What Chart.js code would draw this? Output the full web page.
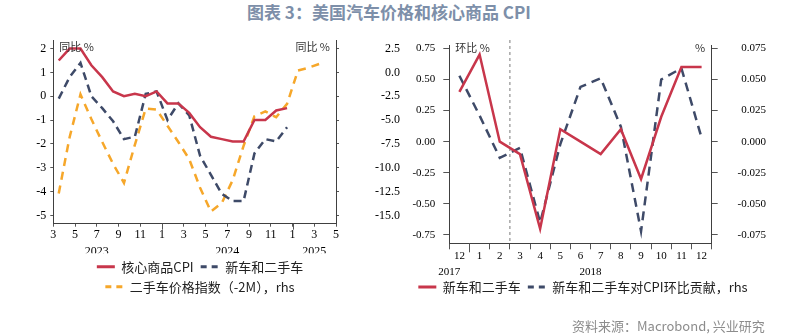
<!DOCTYPE html>
<html>
<head>
<meta charset="utf-8">
<script src="https://cdn.jsdelivr.net/npm/chart.js@4.4.1/dist/chart.umd.min.js"></script>
<style>
  html, body { margin: 0; padding: 0; background: #ffffff; }
  body { width: 804px; height: 336px; position: relative; overflow: hidden; font-family: "Noto Sans CJK SC", sans-serif; }
  #title { position: absolute; top: 0; left: 247px; font-size: 17px; font-weight: bold; color: #7d8fa9; line-height: 24px; white-space: nowrap; }
  #source { position: absolute; top: 317px; left: 572px; font-size: 13px; color: #8c8c8c; line-height: 18px; white-space: nowrap; }
  #c1 { position: absolute; left: 0; top: 0; }
  #c2 { position: absolute; left: 400px; top: 0; }
</style>
</head>
<body>
<div id="title">图表 3：美国汽车价格和核心商品 CPI</div>
<canvas id="c1" width="400" height="336"></canvas>
<canvas id="c2" width="404" height="336"></canvas>
<div id="source">资料来源：Macrobond, 兴业研究</div>
<script>
// ---------------- Left chart data (monthly, Mar 2023 onward) ----------------
const leftTickLabels = ['3','5','7','9','11','1','3','5','7','9','11','1','3','5'];
const leftYearLabels = ['2023','2024','2025'];
const leftYearTickIndex = [2, 8, 12];
const leftYearBoundaryTicks = [5, 11];
const leftYTicks = [-5,-4,-3,-2,-1,0,1,2];
const leftY1Ticks = [-15,-12.5,-10,-7.5,-5,-2.5,0,2.5];
const coreGoodsCPI = [1.5,2.0,2.0,1.3,0.8,0.2,0.0,0.1,0.0,0.2,-0.3,-0.3,-0.7,-1.3,-1.7,-1.8,-1.9,-1.9,-1.0,-1.0,-0.6,-0.5];
const newUsedCars  = [-0.1,0.8,1.4,0.0,-0.5,-1.05,-1.8,-1.7,0.1,0.2,-1.0,-0.3,-0.8,-2.5,-3.3,-4.1,-4.4,-4.4,-2.4,-1.8,-1.9,-1.3];
const usedCarIndexLead2M = [-12.7,-6.8,-2.3,-4.9,-7.3,-9.6,-11.6,-7.6,-3.8,-3.9,-5.6,-7.3,-9.1,-12.1,-14.6,-13.7,-11.3,-7.7,-4.6,-4.1,-4.7,-3.3,0.2,0.5,0.9];

// ---------------- Right chart data (Dec 2017 - Dec 2018) ----------------
const rightCategories = ['12','1','2','3','4','5','6','7','8','9','10','11','12'];
const rightYearLabels = ['2017','2018'];
const rightYearAnchor = [-0.5, 6.5];
const rightYTicks = [-0.75,-0.5,-0.25,0,0.25,0.5,0.75];
const rightY1Ticks = [-0.075,-0.05,-0.025,0,0.025,0.05,0.075];
const carsMoM = [0.4,0.7,0.0,-0.1,-0.7,0.1,0.0,-0.1,0.1,-0.3,0.2,0.6,0.6];
const carsContribMoM = [0.053,0.021,-0.013,-0.005,-0.065,-0.002,0.044,0.051,0.012,-0.072,0.050,0.059,0.003];

const RED = '#C8364B', NAVY = '#3E4A68', ORANGE = '#F6A72A';
const AXIS = '#404040', TICKC = '#555555';
const SERIF = '"Liberation Serif", "Times New Roman", serif';
const CJK = '"Noto Sans CJK SC", sans-serif';

const fixWidth = w => s => { s.width = w; };
const fixHeight = h => s => { s.height = h; };
const setTicks = vals => s => { s.ticks = vals.map(v => ({ value: v })); };

function legendLabels() {
  return {
    usePointStyle: true, pointStyleWidth: 18, padding: 7, color: '#222',
    font: { family: CJK, size: 13 },
    generateLabels(chart) {
      return chart.data.datasets.map((d, i) => ({
        text: d.label, strokeStyle: d.borderColor, fillStyle: 'rgba(0,0,0,0)',
        lineWidth: 3, lineDash: d.borderDash ? [6, 5] : [], pointStyle: 'line',
        datasetIndex: i, hidden: false, fontColor: '#222'
      }));
    }
  };
}

const leftAnnot = {
  id: 'leftAnnot',
  afterDraw(chart) {
    const { ctx, chartArea: ca, scales } = chart;
    ctx.save();
    ctx.fillStyle = '#333';
    ctx.font = '11px ' + CJK;
    ctx.textBaseline = 'middle';
    ctx.textAlign = 'left';
    ctx.fillText('同比 %', ca.left + 6, ca.top + 7);
    ctx.textAlign = 'right';
    ctx.fillText('同比 %', ca.right - 6, ca.top + 7);
    ctx.strokeStyle = TICKC; ctx.lineWidth = 1;
    leftYearBoundaryTicks.forEach(k => {
      const px = Math.round(scales.x.getPixelForValue(k * 2)) + 0.5;
      ctx.beginPath(); ctx.moveTo(px, ca.bottom); ctx.lineTo(px, ca.bottom + 6); ctx.stroke();
    });
    ctx.restore();
  }
};

new Chart(document.getElementById('c1'), {
  type: 'line',
  data: {
    datasets: [
      { label: '核心商品CPI', data: coreGoodsCPI.map((v, i) => ({ x: i + 0.5, y: v })),
        borderColor: RED, borderWidth: 2.5, yAxisID: 'y' },
      { label: '新车和二手车', data: newUsedCars.map((v, i) => ({ x: i + 0.5, y: v })),
        borderColor: NAVY, borderWidth: 2.5, borderDash: [8, 5], yAxisID: 'y' },
      { label: '二手车价格指数（-2M），rhs', data: usedCarIndexLead2M.map((v, i) => ({ x: i + 0.5, y: v })),
        borderColor: ORANGE, borderWidth: 2.5, borderDash: [8, 6], yAxisID: 'y1' }
    ]
  },
  options: {
    responsive: false, animation: false, devicePixelRatio: 1,
    layout: { padding: { top: 40, bottom: 32.8, left: 0, right: 0 } },
    elements: { point: { radius: 0 }, line: { tension: 0 } },
    plugins: { legend: { position: 'bottom', labels: legendLabels() }, tooltip: { enabled: false } },
    scales: {
      x: {
        type: 'linear', min: 0, max: 26,
        afterBuildTicks: setTicks(leftTickLabels.map((_, k) => k * 2)),
        afterFit: fixHeight(29.5),
        ticks: {
          autoSkip: false, maxRotation: 0, padding: 0, color: '#000',
          font: { family: SERIF, size: 12, lineHeight: 17 / 12 },
          callback: (v, idx) => {
            const y = leftYearTickIndex.indexOf(idx);
            return y >= 0 ? [leftTickLabels[idx], leftYearLabels[y]] : leftTickLabels[idx];
          }
        },
        grid: { drawOnChartArea: false, tickLength: 3, tickColor: TICKC },
        border: { color: AXIS, width: 1 }
      },
      y: {
        position: 'left', min: -5.35, max: 2.36,
        afterBuildTicks: setTicks(leftYTicks), afterFit: fixWidth(53.3),
        ticks: { padding: 4, color: '#000', font: { family: SERIF, size: 12 }, callback: v => String(v) },
        grid: { drawOnChartArea: false, tickLength: 3, tickColor: TICKC },
        border: { color: AXIS, width: 1 }
      },
      y1: {
        position: 'right', min: -15.875, max: 3.4,
        afterBuildTicks: setTicks(leftY1Ticks), afterFit: fixWidth(64),
        ticks: { padding: 8, crossAlign: 'far', color: '#000', font: { family: SERIF, size: 12 }, callback: v => v.toFixed(1) },
        grid: { drawOnChartArea: false, tickLength: 3, tickColor: TICKC },
        border: { color: AXIS, width: 1 }
      }
    }
  },
  plugins: [leftAnnot]
});

const rightAnnot = {
  id: 'rightAnnot',
  beforeDatasetsDraw(chart) {
    const { ctx, chartArea: ca, scales } = chart;
    const px = (scales.x.getPixelForValue(2) + scales.x.getPixelForValue(3)) / 2;
    ctx.save();
    ctx.strokeStyle = '#a6a6a6'; ctx.lineWidth = 1.5; ctx.setLineDash([3, 3]);
    ctx.beginPath(); ctx.moveTo(px, ca.top - 5); ctx.lineTo(px, ca.bottom); ctx.stroke();
    ctx.restore();
  },
  afterDraw(chart) {
    const { ctx, chartArea: ca, scales } = chart;
    ctx.save();
    ctx.fillStyle = '#333';
    ctx.font = '11px ' + CJK;
    ctx.textBaseline = 'middle';
    ctx.textAlign = 'left';
    ctx.fillText('环比 %', ca.left + 6, ca.top + 2.5);
    ctx.textAlign = 'right';
    ctx.fillText('%', ca.right - 6.5, ca.top + 2.5);
    ctx.fillStyle = '#000';
    ctx.font = '11px ' + SERIF;
    ctx.textAlign = 'center';
    rightYearLabels.forEach((t, i) => {
      ctx.fillText(t, scales.x.getPixelForValue(rightYearAnchor[i]), ca.bottom + 28.4);
    });
    ctx.strokeStyle = TICKC; ctx.lineWidth = 1;
    const bx = Math.round(scales.x.getPixelForValue(0.5)) + 0.5;
    ctx.beginPath(); ctx.moveTo(bx, ca.bottom); ctx.lineTo(bx, ca.bottom + 9); ctx.stroke();
    ctx.restore();
  }
};

new Chart(document.getElementById('c2'), {
  type: 'line',
  data: {
    labels: rightCategories,
    datasets: [
      { label: '新车和二手车', data: carsMoM, borderColor: RED, borderWidth: 2.5, yAxisID: 'y' },
      { label: '新车和二手车对CPI环比贡献，rhs', data: carsContribMoM, borderColor: NAVY, borderWidth: 2.5, borderDash: [9, 6], yAxisID: 'y1' }
    ]
  },
  options: {
    responsive: false, animation: false, devicePixelRatio: 1,
    layout: { padding: { top: 45, bottom: 32.5, left: 0, right: 38 } },
    elements: { point: { radius: 0 }, line: { tension: 0 } },
    plugins: { legend: { position: 'bottom', labels: legendLabels() }, tooltip: { enabled: false } },
    scales: {
      x: {
        type: 'category', offset: true,
        afterFit: fixHeight(30.2),
        ticks: { autoSkip: false, maxRotation: 0, padding: 0, color: '#000', font: { family: SERIF, size: 11 } },
        grid: { offset: true, drawOnChartArea: false, tickLength: 6, tickColor: TICKC },
        border: { color: AXIS, width: 1 }
      },
      y: {
        position: 'left', min: -0.817, max: 0.777,
        afterBuildTicks: setTicks(rightYTicks), afterFit: fixWidth(49.3),
        ticks: { padding: 8, color: '#000', font: { family: SERIF, size: 11 }, callback: v => v.toFixed(2) },
        grid: { drawOnChartArea: false, tickLength: 6, tickColor: TICKC },
        border: { color: AXIS, width: 1 }
      },
      y1: {
        position: 'right', min: -0.0817, max: 0.0777,
        afterBuildTicks: setTicks(rightY1Ticks), afterFit: fixWidth(54.3),
        ticks: { padding: 6, crossAlign: 'far', color: '#000', font: { family: SERIF, size: 11 }, callback: v => v.toFixed(3) },
        grid: { drawOnChartArea: false, tickLength: 6, tickColor: TICKC },
        border: { color: AXIS, width: 1 }
      }
    }
  },
  plugins: [rightAnnot]
});
</script>
</body>
</html>
